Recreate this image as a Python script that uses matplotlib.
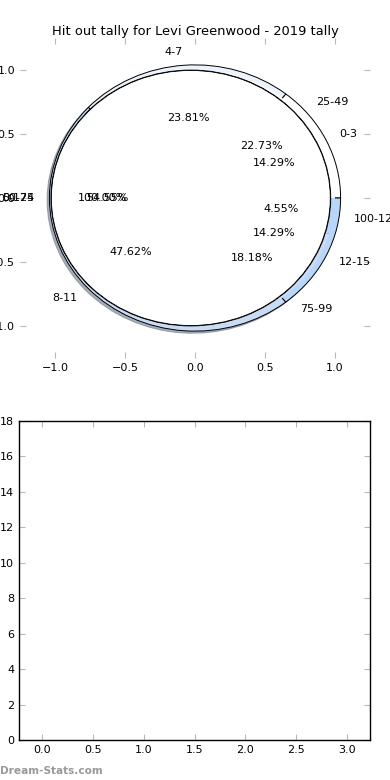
import matplotlib
matplotlib.use("Agg")
import matplotlib.pyplot as plt
import numpy as np

title = "Hit out tally for Levi Greenwood - 2019 tally"
tally_labels = ["0-3", "4-7", "8-11", "12-15"]
tally_counts = [3, 5, 10, 3]
pct_labels = ["25-49", "50-74", "75-99", "100-124"]
pct_counts = [5, 12, 4, 1]
extra_labels = ["0-125"]
extra_counts = [1]
bar_cats = [0, 1, 2, 3]
bar_vals = [0, 0, 0, 0]

fig = plt.figure(figsize=(3.9, 7.8), dpi=100)
W, H = 390, 780

def ax_rect(l, t, r, b):
    return [l / W, 1 - b / H, (r - l) / W, (b - t) / H]

tick_col = "#b8b8b8"

ax1 = fig.add_axes(ax_rect(20, 38, 370, 358))
# outer ring: tally distribution
w1, t1, a1 = ax1.pie(tally_counts, labels=tally_labels, autopct="%1.2f%%",
                     radius=1.04, colors=["#ffffff", "#edf3fd", "#c9dcf5", "#b8d5fa"],
                     shadow={"ox": -0.012, "oy": -0.012, "shade": 0.45, "alpha": 0.6},
                     wedgeprops=dict(width=0.05, edgecolor="black", linewidth=0.7),
                     textprops=dict(fontsize=8))
# second ring
w2, t2, a2 = ax1.pie(pct_counts, labels=pct_labels, autopct="%1.2f%%",
                     radius=1.0, labeldistance=1.144, pctdistance=0.624,
                     colors=["#ffffff", "#c9dcf5", "#c9dcf5", "#b8d5fa"],
                     wedgeprops=dict(width=0.1, edgecolor="none", linewidth=0),
                     textprops=dict(fontsize=8))
# covering full disc, slightly offset
w3, t3, a3 = ax1.pie(extra_counts, labels=extra_labels, autopct="%1.2f%%",
                     radius=1.0, explode=[0.03], labeldistance=1.12,
                     pctdistance=0.63, colors=["#ffffff"],
                     wedgeprops=dict(edgecolor="none", linewidth=0),
                     textprops=dict(fontsize=8))
ax1.pie(extra_counts, radius=1.0, explode=[0.03], colors=["#ffffff"],
        wedgeprops=dict(width=0.004, edgecolor="#111111", linewidth=0.55))
ax1.set_aspect("auto")
ax1.set_xlim(-1.25, 1.25)
ax1.set_ylim(-1.25, 1.25)
ax1.set_xticks(np.arange(-1.0, 1.01, 0.5))
ax1.set_yticks(np.arange(-1.0, 1.01, 0.5))
ax1.tick_params(direction="in", length=4, color=tick_col, labelsize=8,
                top=True, right=True, bottom=True, left=True)
for s in ax1.spines.values():
    s.set_visible(False)
ax1.set_title(title, fontsize=9.4, pad=2.5)

ax2 = fig.add_axes(ax_rect(19, 421, 370, 740))
ax2.bar(bar_cats, bar_vals, width=0.45, color="#b8d5fa", linewidth=0)
ax2.set_xlim(-0.225, 3.225)
ax2.set_ylim(0, 18)
ax2.set_xticks(np.arange(0, 3.01, 0.5))
ax2.set_yticks(np.arange(0, 18.1, 2))
ax2.tick_params(direction="in", length=4, color=tick_col, labelsize=8,
                top=True, right=True, bottom=True, left=True)
for s in ax2.spines.values():
    s.set_linewidth(1.0)

fig.text(0.0, 1 - 771 / H, "Dream-Stats.com", fontsize=7.6, color="#999999",
         fontweight="bold", va="center", ha="left")

fig.savefig("out.png", dpi=100)
